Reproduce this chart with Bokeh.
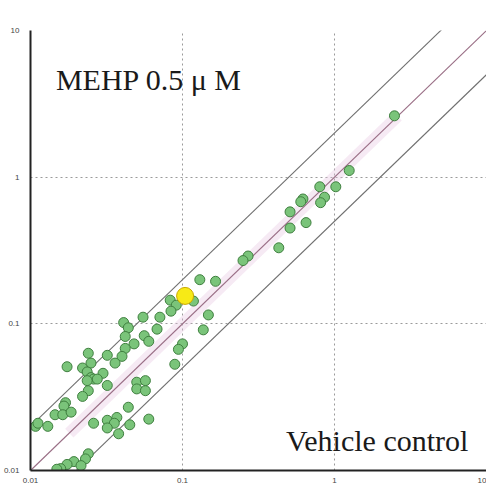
from bokeh.plotting import figure
from bokeh.models import FixedTicker, Label
from bokeh.embed import file_html
from bokeh.resources import INLINE

# axis ticks
ticks = [0.01, 0.1, 1, 10]
tick_labels = ["0.01", "0.1", "1", "10"]

# reference lines y = r * x
ratios = [0.5, 1, 2]
line_x = [0.01, 10]

# green points (x = vehicle control, y = MEHP 0.5 uM)
xs = [2.48, 1.25, 0.80, 1.02, 0.86, 0.81, 0.62, 0.60, 0.51, 0.65, 0.51, 0.43,
      0.27, 0.25, 0.13, 0.165, 0.118, 0.083, 0.091, 0.084, 0.055, 0.071, 0.148,
      0.041, 0.044, 0.068, 0.137, 0.042, 0.056, 0.060, 0.048, 0.100, 0.094,
      0.042, 0.032, 0.040, 0.036, 0.089, 0.024, 0.025, 0.0174, 0.022, 0.0236,
      0.030, 0.025, 0.026, 0.0236, 0.0275, 0.032, 0.024, 0.022, 0.050, 0.057,
      0.050, 0.057, 0.017, 0.0166, 0.0145, 0.0163, 0.0185, 0.0108, 0.0112,
      0.013, 0.026, 0.032, 0.037, 0.0356, 0.032, 0.044, 0.045, 0.038, 0.060,
      0.024, 0.023, 0.0193, 0.0174, 0.0158, 0.0215, 0.0149]
ys = [2.62, 1.11, 0.86, 0.86, 0.73, 0.67, 0.71, 0.68, 0.58, 0.49, 0.45, 0.33,
      0.29, 0.27, 0.20, 0.195, 0.143, 0.145, 0.134, 0.122, 0.111, 0.111, 0.115,
      0.102, 0.094, 0.092, 0.091, 0.082, 0.083, 0.076, 0.073, 0.073, 0.067,
      0.068, 0.061, 0.060, 0.054, 0.053, 0.063, 0.054, 0.051, 0.050, 0.047,
      0.046, 0.043, 0.042, 0.041, 0.042, 0.038, 0.035, 0.032, 0.040, 0.041,
      0.036, 0.035, 0.029, 0.0275, 0.024, 0.024, 0.025, 0.020, 0.021,
      0.020, 0.021, 0.022, 0.023, 0.021, 0.0195, 0.027, 0.0205, 0.0178, 0.0224,
      0.013, 0.012, 0.0115, 0.011, 0.0103, 0.0108, 0.0102]

# highlighted point
hx = [0.104]
hy = [0.155]

title_text = "MEHP 0.5 μ M"
xlabel_text = "Vehicle control"

SERIF = "'Liberation Serif', 'Times New Roman', serif"

p = figure(width=486, height=485, x_axis_type="log", y_axis_type="log",
           x_range=(0.01, 10), y_range=(0.01, 10),
           output_backend="svg", toolbar_location=None,
           min_border_left=28, min_border_right=0,
           min_border_top=30, min_border_bottom=11)
p.background_fill_color = "white"
p.border_fill_color = "white"
p.outline_line_color = None

for ax in (p.xaxis, p.yaxis):
    ax.ticker = FixedTicker(ticks=ticks)
    ax.major_label_overrides = dict(zip(ticks, tick_labels))
    ax.major_tick_line_color = None
    ax.minor_tick_line_color = None
    ax.axis_line_color = "#222222"
    ax.axis_line_width = 2
    ax.major_label_text_font_size = "8px"
    ax.major_label_text_font = "Liberation Sans"
    ax.major_label_text_color = "#444444"
p.xaxis.major_label_standoff = 1
p.yaxis.major_label_standoff = 5

for g in (p.xgrid, p.ygrid):
    g.grid_line_color = "#9a9a9a"
    g.grid_line_dash = "2 3"
    g.grid_line_width = 1

# pink band along identity line
p.line([0.018, 2.6], [0.018, 2.6], line_color="#e6c3df", line_width=12, line_alpha=0.35)

for r in ratios:
    col = "#9a6f86" if r == 1 else "#707070"
    p.line(line_x, [r * v for v in line_x], line_color=col, line_width=1.1)

p.scatter(xs, ys, size=10, fill_color="#7ac47a", line_color="#3f7f3f", line_width=1)
p.scatter(hx, hy, size=17, fill_color="#f7ea16", line_color="#c9a800", line_width=1)

p.add_layout(Label(x=0.0147, y=4.67, text=title_text, text_font=SERIF,
                   text_font_size="30px", text_color="#1a1a1a",
                   text_baseline="alphabetic", text_align="left"))
p.add_layout(Label(x=7.6, y=0.016, text=xlabel_text, text_font=SERIF,
                   text_font_size="30px", text_color="#1a1a1a",
                   text_baseline="alphabetic", text_align="right"))

open("out.html", "w").write(file_html(p, INLINE))
